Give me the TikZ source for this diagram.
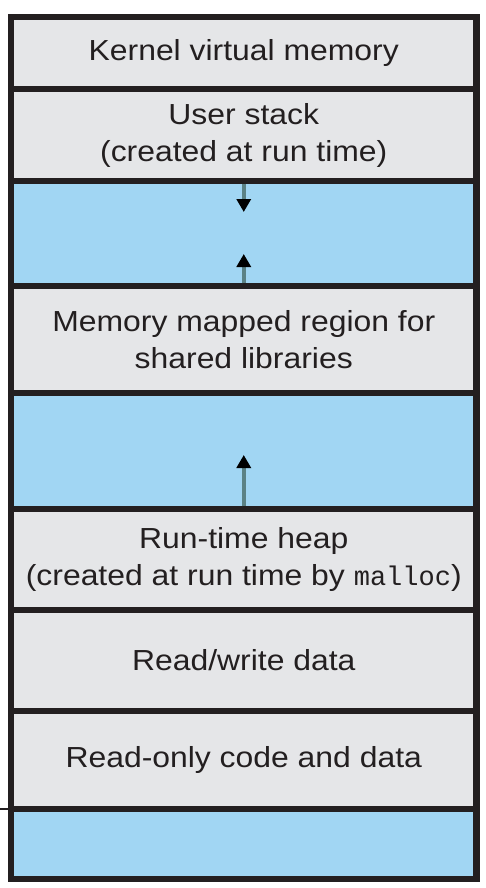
\documentclass[tikz,border=0pt]{standalone}
\usepackage{fontspec}
\setmainfont[FakeStretch=1.1]{Liberation Sans}
\newfontfamily\monofont{Liberation Mono}
\usetikzlibrary{arrows.meta}
\definecolor{grayfill}{HTML}{E5E6E8}
\definecolor{bluefill}{HTML}{A1D6F3}
\definecolor{edge}{HTML}{231F20}
\definecolor{shaft}{HTML}{5B8285}
\begin{document}
\begin{tikzpicture}[x=1pt,y=-1pt,
  region/.style={rectangle, draw=edge, line width=5.5pt, minimum width=465.5pt,
    inner sep=0pt, outer sep=0pt, text=edge, align=center,
    font=\fontsize{29}{37}\selectfont},
  grayregion/.style={region, fill=grayfill},
  blueregion/.style={region, fill=bluefill},
  frame/.style={draw=edge, line width=6.5pt},
  arr/.style={draw=shaft, line width=3.5pt, -{Triangle[width=14pt,length=13pt,color=black]}},
  tickline/.style={draw=edge, line width=1.5pt}]
\useasboundingbox (0,0) rectangle (486,888);
\node[grayregion, minimum height=72pt]  (kernel) at (243.75,53)   {Kernel virtual memory};
\node[grayregion, minimum height=92pt]  (user)   at (243.75,135)  {User stack\\(created at run time)};
\node[blueregion, minimum height=105pt] (blue1)  at (243.75,233.5) {};
\node[grayregion, minimum height=107pt] (mmap)   at (243.75,339.5) {Memory mapped region for\\shared libraries};
\node[blueregion, minimum height=116pt] (blue2)  at (243.75,451)  {};
\node[grayregion, minimum height=101pt] (heap)   at (243.75,559.5) {Run-time heap\\(created at run time by {\monofont\fontsize{27}{37}\selectfont malloc})};
\node[grayregion, minimum height=101pt] (rw)     at (243.75,660.5) {Read/write data};
\node[grayregion, minimum height=98pt]  (ro)     at (243.75,760)  {Read-only code and data};
\node[blueregion, minimum height=70pt]  (blue3)  at (243.75,844)  {};
% arrows
\coordinate (d1) at (243.75,212);
\coordinate (u1) at (243.75,254);
\coordinate (u2) at (243.75,455);
\draw[arr] ([yshift=-2.75pt]blue1.north) -- (d1);
\draw[arr] ([yshift=2.75pt]blue1.south) -- (u1);
\draw[arr] ([yshift=2.75pt]blue2.south) -- (u2);
% tick
\coordinate (tickL) at (0,809);
\draw[tickline] (tickL) -- (ro.south west);
% frame
\draw[frame] (kernel.north west) rectangle (blue3.south east);
\end{tikzpicture}
\end{document}
